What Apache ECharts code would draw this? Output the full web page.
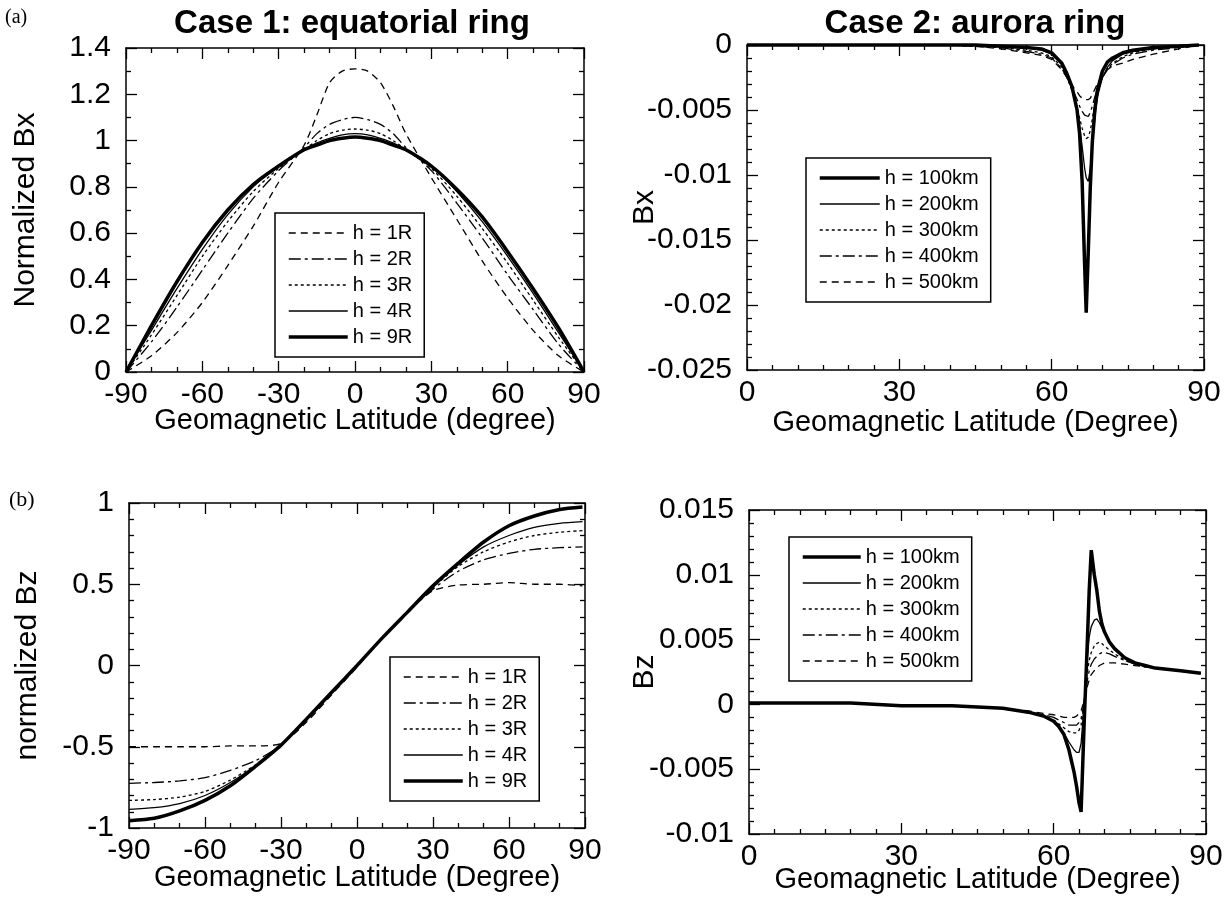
<!DOCTYPE html>
<html><head><meta charset="utf-8">
<script src="https://cdn.jsdelivr.net/npm/echarts@6/dist/echarts.min.js"></script>
<style>html,body{margin:0;padding:0;background:#fff}#c{width:1232px;height:901px}</style>
</head><body><div id="c"></div>
<script>
// ---------- Panel (a) left: Case 1 normalized Bx ----------
const lat1 = [-90,-80,-70,-60,-50,-40,-30,-20,-15,-10,-5,0,5,10,15,20,30,40,50,60,70,80,90];
const bx1R = [0,0.07,0.17,0.30,0.46,0.63,0.82,0.98,1.11,1.25,1.30,1.31,1.30,1.25,1.15,1.03,0.84,0.66,0.48,0.32,0.18,0.07,0];
const bx2R = [0,0.13,0.28,0.44,0.60,0.75,0.87,0.97,1.03,1.07,1.09,1.10,1.09,1.07,1.03,0.97,0.87,0.73,0.58,0.42,0.27,0.12,0];
const bx3R = [0,0.16,0.33,0.50,0.65,0.78,0.88,0.96,1.00,1.03,1.045,1.05,1.045,1.03,1.00,0.96,0.88,0.76,0.62,0.47,0.31,0.15,0];
const bx4R = [0,0.18,0.36,0.53,0.68,0.80,0.89,0.96,0.99,1.01,1.025,1.03,1.025,1.01,0.99,0.96,0.89,0.78,0.65,0.50,0.34,0.17,0];
const bx9R = [0,0.20,0.39,0.56,0.70,0.81,0.89,0.96,0.98,1.00,1.01,1.015,1.01,1.00,0.98,0.96,0.89,0.79,0.67,0.52,0.36,0.19,0];

// ---------- Panel (b) left: Case 1 normalized Bz ----------
const lat3 = [-90,-80,-70,-60,-50,-40,-30,-20,-10,0,10,20,30,40,50,60,70,80,89];
const bz1R = [-0.50,-0.50,-0.50,-0.50,-0.495,-0.495,-0.48,-0.35,-0.18,-0.01,0.17,0.33,0.46,0.495,0.50,0.51,0.50,0.50,0.49];
const bz2R = [-0.725,-0.72,-0.71,-0.69,-0.645,-0.585,-0.49,-0.34,-0.17,0,0.17,0.33,0.47,0.58,0.65,0.69,0.715,0.725,0.73];
const bz3R = [-0.83,-0.825,-0.81,-0.775,-0.705,-0.61,-0.49,-0.33,-0.165,0,0.17,0.33,0.48,0.61,0.70,0.76,0.80,0.82,0.83];
const bz4R = [-0.885,-0.875,-0.85,-0.80,-0.72,-0.615,-0.49,-0.33,-0.165,0,0.17,0.33,0.49,0.62,0.73,0.80,0.85,0.875,0.885];
const bz9R = [-0.955,-0.94,-0.895,-0.83,-0.74,-0.62,-0.49,-0.33,-0.165,0,0.17,0.33,0.49,0.63,0.76,0.86,0.92,0.96,0.975];

// ---------- Panel (a) right: Case 2 Bx ----------
const lat2 = [0,10,20,30,40,45,50,55,58,60,62,63,64,65,65.5,66,66.5,66.8,67.2,67.6,68,68.5,69,70,71,72,74,76,80,85,89];
const bxA100 = [0,0,0,0,0,0,-0.0001,-0.0002,-0.0003,-0.0006,-0.0014,-0.0022,-0.0032,-0.0050,-0.0068,-0.0105,-0.0170,-0.0206,-0.0160,-0.0110,-0.0075,-0.0050,-0.0035,-0.0020,-0.0013,-0.0010,-0.0006,-0.0004,-0.0002,-0.0001,0];
const bxA200 = [0,0,0,0,0,0,-0.0001,-0.0002,-0.0004,-0.0007,-0.0015,-0.0023,-0.0034,-0.0050,-0.0062,-0.0078,-0.0095,-0.0102,-0.0105,-0.0095,-0.0078,-0.0056,-0.0040,-0.0025,-0.0017,-0.0012,-0.0007,-0.0005,-0.0003,-0.0001,0];
const bxA300 = [0,0,0,0,0,-0.0001,-0.0002,-0.0004,-0.0006,-0.0009,-0.0017,-0.0025,-0.0035,-0.0048,-0.0056,-0.0064,-0.0070,-0.0072,-0.0071,-0.0066,-0.0057,-0.0045,-0.0036,-0.0025,-0.0018,-0.0014,-0.0009,-0.0006,-0.0003,-0.0001,0];
const bxA400 = [0,0,0,0,0,-0.0001,-0.0002,-0.0005,-0.0007,-0.0010,-0.0018,-0.0025,-0.0033,-0.0042,-0.0047,-0.0051,-0.0054,-0.0055,-0.0055,-0.0052,-0.0047,-0.0040,-0.0034,-0.0025,-0.0019,-0.0015,-0.0010,-0.0007,-0.0004,-0.0002,0];
const bxA500 = [0,0,0,0,0,-0.0001,-0.0003,-0.0006,-0.0008,-0.0011,-0.0019,-0.0025,-0.0031,-0.0036,-0.0039,-0.0041,-0.0042,-0.0042,-0.0042,-0.0041,-0.0038,-0.0034,-0.0030,-0.0024,-0.0019,-0.0016,-0.0014,-0.0011,-0.0007,-0.0003,0];

// ---------- Panel (b) right: Case 2 Bz ----------
const lat4 = [0,10,20,30,40,45,50,55,58,60,61,62,63,64,64.5,65,65.4,66,66.5,67,67.4,68,68.5,69,69.5,70,71,72,74,76,78,80,85,89];
const bzA100 = [0.0001,0.0001,0.0001,-0.0001,-0.0001,-0.0002,-0.0003,-0.0006,-0.0009,-0.0013,-0.0017,-0.0023,-0.0035,-0.0052,-0.0063,-0.0076,-0.0083,-0.0015,0.0035,0.0088,0.0119,0.0100,0.0088,0.0072,0.0062,0.0056,0.0048,0.0043,0.0036,0.0032,0.0030,0.0028,0.0026,0.0024];
const bzA200 = [0.0001,0.0001,0.0001,-0.0001,-0.0001,-0.0002,-0.0003,-0.0006,-0.0009,-0.0013,-0.0017,-0.0022,-0.0029,-0.0035,-0.0037,-0.0037,-0.0030,0.0000,0.0030,0.0052,0.0060,0.0065,0.0066,0.0063,0.0059,0.0055,0.0048,0.0043,0.0036,0.0032,0.0030,0.0028,0.0026,0.0024];
const bzA300 = [0.0001,0.0001,0.0001,-0.0001,-0.0001,-0.0002,-0.0003,-0.0006,-0.0009,-0.0012,-0.0015,-0.0018,-0.0021,-0.0022,-0.0022,-0.0020,-0.0016,0.0002,0.0022,0.0034,0.0040,0.0045,0.0047,0.0048,0.0047,0.0045,0.0042,0.0039,0.0034,0.0031,0.0029,0.0028,0.0026,0.0024];
const bzA400 = [0.0001,0.0001,0.0001,-0.0001,-0.0001,-0.0002,-0.0003,-0.0006,-0.0008,-0.0010,-0.0012,-0.0014,-0.0016,-0.0016,-0.0016,-0.0014,-0.0011,0.0002,0.0016,0.0026,0.0031,0.0035,0.0037,0.0039,0.0040,0.0040,0.0039,0.0037,0.0034,0.0031,0.0029,0.0028,0.0026,0.0024];
const bzA500 = [0.0001,0.0001,0.0001,-0.0001,-0.0001,-0.0002,-0.0003,-0.0005,-0.0007,-0.0008,-0.0009,-0.0010,-0.0010,-0.0010,-0.0009,-0.0007,-0.0005,0.0003,0.0012,0.0019,0.0023,0.0026,0.0028,0.0030,0.0031,0.0032,0.0032,0.0032,0.0031,0.0030,0.0029,0.0028,0.0026,0.0024];

const namesR = ['h = 1R','h = 2R','h = 3R','h = 4R','h = 9R'];
const namesKm = ['h = 100km','h = 200km','h = 300km','h = 400km','h = 500km'];

const F = 'Liberation Sans, Arial, sans-serif';
const BLACK = '#000';
const DASH = [7,5], DASHDOT = [12,4,3,4], DOT = [3,3];
const styleR = {
  'h = 1R': {type: DASH, width: 1.3},
  'h = 2R': {type: DASHDOT, width: 1.3},
  'h = 3R': {type: DOT, width: 1.3},
  'h = 4R': {type: 'solid', width: 1.3},
  'h = 9R': {type: 'solid', width: 3.5}
};
const styleKm = {
  'h = 100km': {type: 'solid', width: 3.5},
  'h = 200km': {type: 'solid', width: 1.3},
  'h = 300km': {type: DOT, width: 1.3},
  'h = 400km': {type: DASHDOT, width: 1.3},
  'h = 500km': {type: DASH, width: 1.3}
};

function pairs(xs, ys) { return xs.map((x, i) => [x, ys[i]]); }

function mkSeries(name, st, xs, ys, gi, smooth) {
  return {
    type: 'line', name: name, xAxisIndex: gi, yAxisIndex: gi,
    data: pairs(xs, ys), symbol: 'none', showSymbol: false, smooth: smooth,
    clip: false, animation: false,
    lineStyle: {color: BLACK, width: st.width, type: st.type},
    itemStyle: {color: BLACK}
  };
}

const tickLine = {color: BLACK, width: 1.3};
function xMain(gi, min, max, interval, msplit, name, gap) {
  return {
    type: 'value', gridIndex: gi, min: min, max: max, interval: interval, position: 'bottom',
    axisLine: {show: true, onZero: false, lineStyle: {color: BLACK, width: 1.5}},
    axisTick: {show: true, inside: true, length: 11, lineStyle: tickLine},
    minorTick: {show: true, splitNumber: msplit, length: 5, lineStyle: tickLine},
    splitLine: {show: false}, minorSplitLine: {show: false},
    axisLabel: {fontSize: 30, color: BLACK, fontFamily: F, margin: 8},
    name: name, nameLocation: 'middle', nameGap: gap, nameMoveOverlap: false,
    nameTextStyle: {fontSize: 29, color: BLACK, fontFamily: F}
  };
}
function xMirror(gi, min, max, interval, msplit) {
  return {
    type: 'value', gridIndex: gi, min: min, max: max, interval: interval, position: 'top',
    axisLine: {show: true, onZero: false, lineStyle: {color: BLACK, width: 1.5}},
    axisTick: {show: true, inside: true, length: 11, lineStyle: tickLine},
    minorTick: {show: true, splitNumber: msplit, length: 5, lineStyle: tickLine},
    splitLine: {show: false}, axisLabel: {show: false}
  };
}
function yMain(gi, min, max, interval, msplit, name, gap) {
  return {
    type: 'value', gridIndex: gi, min: min, max: max, interval: interval, position: 'left',
    axisLine: {show: true, onZero: false, lineStyle: {color: BLACK, width: 1.5}},
    axisTick: {show: true, inside: true, length: 11, lineStyle: tickLine},
    minorTick: {show: true, splitNumber: msplit, length: 5, lineStyle: tickLine},
    splitLine: {show: false}, minorSplitLine: {show: false},
    axisLabel: {fontSize: 30, color: BLACK, fontFamily: F, margin: 15},
    name: name, nameLocation: 'middle', nameGap: gap, nameRotate: 90, nameMoveOverlap: false,
    nameTextStyle: {fontSize: 30, color: BLACK, fontFamily: F}
  };
}
function yMirror(gi, min, max, interval, msplit) {
  return {
    type: 'value', gridIndex: gi, min: min, max: max, interval: interval, position: 'right',
    axisLine: {show: true, onZero: false, lineStyle: {color: BLACK, width: 1.5}},
    axisTick: {show: true, inside: true, length: 11, lineStyle: tickLine},
    minorTick: {show: true, splitNumber: msplit, length: 5, lineStyle: tickLine},
    splitLine: {show: false}, axisLabel: {show: false}
  };
}

function mkLegend(names, styles, left, top, iw) {
  return {
    orient: 'vertical', left: left, top: top,
    data: names.map(n => ({
      name: n,
      lineStyle: {color: BLACK, width: styles[n].width, type: styles[n].type},
      itemStyle: {opacity: 0, color: 'rgba(0,0,0,0)', borderWidth: 0}
    })),
    itemWidth: iw, itemHeight: 14, itemGap: 6,
    itemStyle: {opacity: 0, color: 'rgba(0,0,0,0)', borderWidth: 0},
    padding: [10, 12, 10, 12], borderColor: BLACK, borderWidth: 1.5,
    backgroundColor: '#fff', selectedMode: false,
    textStyle: {fontSize: 20, color: BLACK, fontFamily: F}
  };
}

const series = [];
[['h = 1R', bx1R], ['h = 2R', bx2R], ['h = 3R', bx3R], ['h = 4R', bx4R], ['h = 9R', bx9R]]
  .forEach(([n, d]) => series.push(mkSeries(n, styleR[n], lat1, d, 0, 0.25)));
[['h = 500km', bxA500], ['h = 400km', bxA400], ['h = 300km', bxA300], ['h = 200km', bxA200], ['h = 100km', bxA100]]
  .forEach(([n, d]) => series.push(mkSeries(n, styleKm[n], lat2, d, 1, 0)));
[['h = 1R', bz1R], ['h = 2R', bz2R], ['h = 3R', bz3R], ['h = 4R', bz4R], ['h = 9R', bz9R]]
  .forEach(([n, d]) => series.push(mkSeries(n, styleR[n], lat3, d, 2, 0.25)));
[['h = 500km', bzA500], ['h = 400km', bzA400], ['h = 300km', bzA300], ['h = 200km', bzA200], ['h = 100km', bzA100]]
  .forEach(([n, d]) => series.push(mkSeries(n, styleKm[n], lat4, d, 3, 0)));

const option = {
  animation: false,
  backgroundColor: '#fff',
  grid: [
    {left: 126, top: 48, width: 458, height: 324},
    {left: 747, top: 45, width: 457, height: 325},
    {left: 129, top: 503, width: 456, height: 325},
    {left: 749, top: 510, width: 457, height: 324}
  ],
  xAxis: [
    xMain(0, -90, 90, 30, 3, 'Geomagnetic Latitude (degree)', 34),
    xMain(1, 0, 90, 30, 6, 'Geomagnetic Latitude (Degree)', 38),
    xMain(2, -90, 90, 30, 3, 'Geomagnetic Latitude (Degree)', 35),
    xMain(3, 0, 90, 30, 6, 'Geomagnetic Latitude (Degree)', 31),
    xMirror(0, -90, 90, 30, 3),
    xMirror(1, 0, 90, 30, 6),
    xMirror(2, -90, 90, 30, 3),
    xMirror(3, 0, 90, 30, 6)
  ],
  yAxis: [
    yMain(0, 0, 1.4, 0.2, 2, 'Normalized Bx', 85),
    yMain(1, -0.025, 0, 0.005, 5, 'Bx', 87),
    yMain(2, -1, 1, 0.5, 5, 'normalized Bz', 86),
    yMain(3, -0.01, 0.015, 0.005, 5, 'Bz', 89),
    yMirror(0, 0, 1.4, 0.2, 2),
    yMirror(1, -0.025, 0, 0.005, 5),
    yMirror(2, -1, 1, 0.5, 5),
    yMirror(3, -0.01, 0.015, 0.005, 5)
  ],
  legend: [
    mkLegend(namesR, styleR, 275, 213, 59),
    mkLegend(namesKm, styleKm, 806, 158, 60),
    mkLegend(namesR, styleR, 390, 657, 59),
    mkLegend(namesKm, styleKm, 789, 537, 58)
  ],
  graphic: [
    {type: 'text', x: 352, y: 24, style: {text: 'Case 1: equatorial ring', align: 'center', verticalAlign: 'middle', fontSize: 33, fontWeight: 'bold', fontFamily: F, fill: BLACK}},
    {type: 'text', x: 975, y: 24, style: {text: 'Case 2: aurora ring', align: 'center', verticalAlign: 'middle', fontSize: 33, fontWeight: 'bold', fontFamily: F, fill: BLACK}},
    {type: 'text', x: 5, y: 18, style: {text: '(a)', align: 'left', verticalAlign: 'middle', fontSize: 20, fontFamily: 'Liberation Serif, Times New Roman, serif', fill: BLACK}},
    {type: 'text', x: 9, y: 500, style: {text: '(b)', align: 'left', verticalAlign: 'middle', fontSize: 22, fontFamily: 'Liberation Serif, Times New Roman, serif', fill: BLACK}}
  ],
  series: series
};
const chart = echarts.init(document.getElementById('c'));
chart.setOption(option);
</script>
</body></html>
